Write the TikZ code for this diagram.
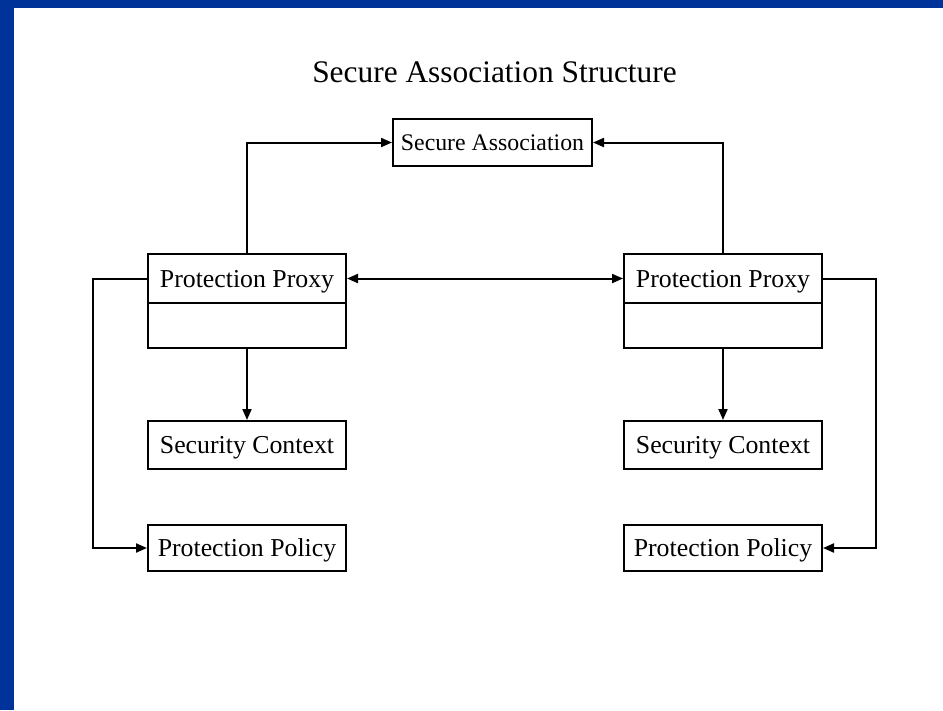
\documentclass[tikz,border=0pt]{standalone}
\usepackage{fontspec}
\setmainfont{Liberation Serif}
\usetikzlibrary{arrows.meta}
\definecolor{frameblue}{RGB}{0,51,153}
\begin{document}
\begin{tikzpicture}[x=1pt,y=-1pt,
  tip/.tip={Triangle[length=11pt,width=9pt]},
  box/.style={draw=black,line width=2pt,rectangle,inner sep=0pt,
    minimum width=198pt,text height=17pt,text depth=0pt,
    font=\fontsize{25.8}{30}\selectfont},
  link/.style={line width=2pt,-tip}]
  % page frame
  \fill[frameblue] (0,0) rectangle (943,710);
  \fill[white] (14,8) rectangle (943,710);
  \useasboundingbox (0,0) rectangle (943,710);

  \node[anchor=base,font=\fontsize{31.4}{36}\selectfont] (title) at (494.5,82) {Secure Association Structure};

  \node[box,minimum width=199pt,minimum height=47pt,text height=15.7pt,
        font=\fontsize{23.8}{28}\selectfont] (sa) at (492.5,142.5) {Secure Association};

  % left side
  \node[box,minimum height=49pt] (pxL) at (247,278.5) {Protection Proxy};
  \node[box,minimum height=45pt] (pxLb) at (247,325.5) {};
  \node[box,minimum height=48pt] (scL) at (247,445) {Security Context};
  \node[box,minimum height=46pt] (ppL) at (247,548) {Protection Policy};

  % right side
  \node[box,minimum height=49pt] (pxR) at (723,278.5) {Protection Proxy};
  \node[box,minimum height=45pt] (pxRb) at (723,325.5) {};
  \node[box,minimum height=48pt] (scR) at (723,445) {Security Context};
  \node[box,minimum height=46pt] (ppR) at (723,548) {Protection Policy};

  \coordinate (railL) at (93,0);
  \coordinate (railR) at (876,0);

  \draw[link] (pxL.north) |- (sa.west);
  \draw[link] (pxR.north) |- (sa.east);
  \draw[link,tip-tip] (pxL.east) -- (pxR.west);
  \draw[link] (pxLb.south) -- (scL.north);
  \draw[link] (pxRb.south) -- (scR.north);
  \draw[link] (pxL.west) -- (pxL.west -| railL) |- (ppL.west);
  \draw[link] (pxR.east) -- (pxR.east -| railR) |- (ppR.east);
\end{tikzpicture}
\end{document}
